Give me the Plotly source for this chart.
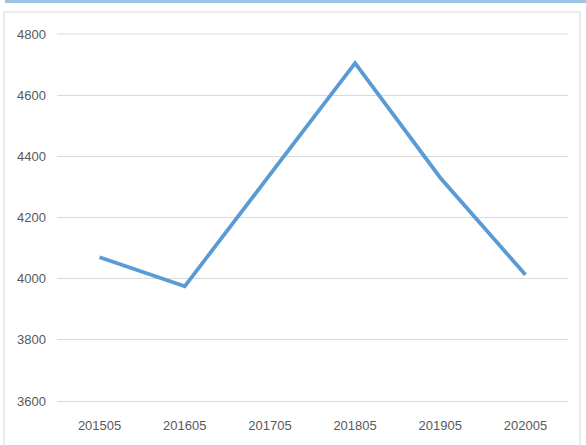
import plotly.graph_objects as go

categories = ["201505", "201605", "201705", "201805", "201905", "202005"]
values = [4070, 3975, 4340, 4705, 4330, 4013]
y_ticks = [3600, 3800, 4000, 4200, 4400, 4600, 4800]

W, H = 586, 445
ML, MR, MT, MB = 57, 18, 34, 44
pw, ph = W - ML - MR, H - MT - MB

def px_x(px):
    return (px - ML) / pw

def px_y(py):
    return (H - MB - py) / ph

fig = go.Figure()
fig.add_trace(go.Scatter(
    x=categories, y=values, mode="lines",
    line=dict(color="#5b9bd5", width=3.8),
    hoverinfo="skip", showlegend=False,
))

grid = "#d9d9d9"
fig.update_layout(
    width=W, height=H,
    margin=dict(l=ML, r=MR, t=MT, b=MB, pad=0),
    paper_bgcolor="white", plot_bgcolor="white",
    font=dict(family="Liberation Sans, Arial", size=13, color="#595959"),
    xaxis=dict(
        type="category", range=[-0.5, len(categories) - 0.5],
        showgrid=False, showline=True, linecolor=grid,
        linewidth=1, ticks="", ticklabelstandoff=12, zeroline=False,
        tickfont=dict(size=13, color="#595959"),
    ),
    yaxis=dict(
        range=[3600, 4800], tickvals=y_ticks, showgrid=True, gridcolor=grid,
        gridwidth=1, showline=False, zeroline=False, ticks="",
        ticklabelstandoff=10, tickfont=dict(size=13, color="#595959"),
    ),
    shapes=[
        dict(type="rect", xref="paper", yref="paper",
             x0=px_x(4), x1=px_x(580), y0=px_y(448), y1=px_y(12),
             line=dict(color="#d9d9d9", width=1), fillcolor="rgba(0,0,0,0)",
             layer="below"),
        dict(type="rect", xref="paper", yref="paper",
             x0=px_x(5), x1=px_x(586), y0=px_y(3), y1=px_y(0),
             line=dict(width=0), fillcolor="#9dc3e6", layer="above"),
        dict(type="line", xref="paper", yref="paper",
             x0=0, x1=1, y0=1, y1=1, line=dict(color=grid, width=1),
             layer="below"),
    ],
)

fig.write_html(
    "out.html",
    config={"displayModeBar": False, "staticPlot": True},
    post_script="document.body.style.margin='0';document.body.style.overflow='hidden';",
)
